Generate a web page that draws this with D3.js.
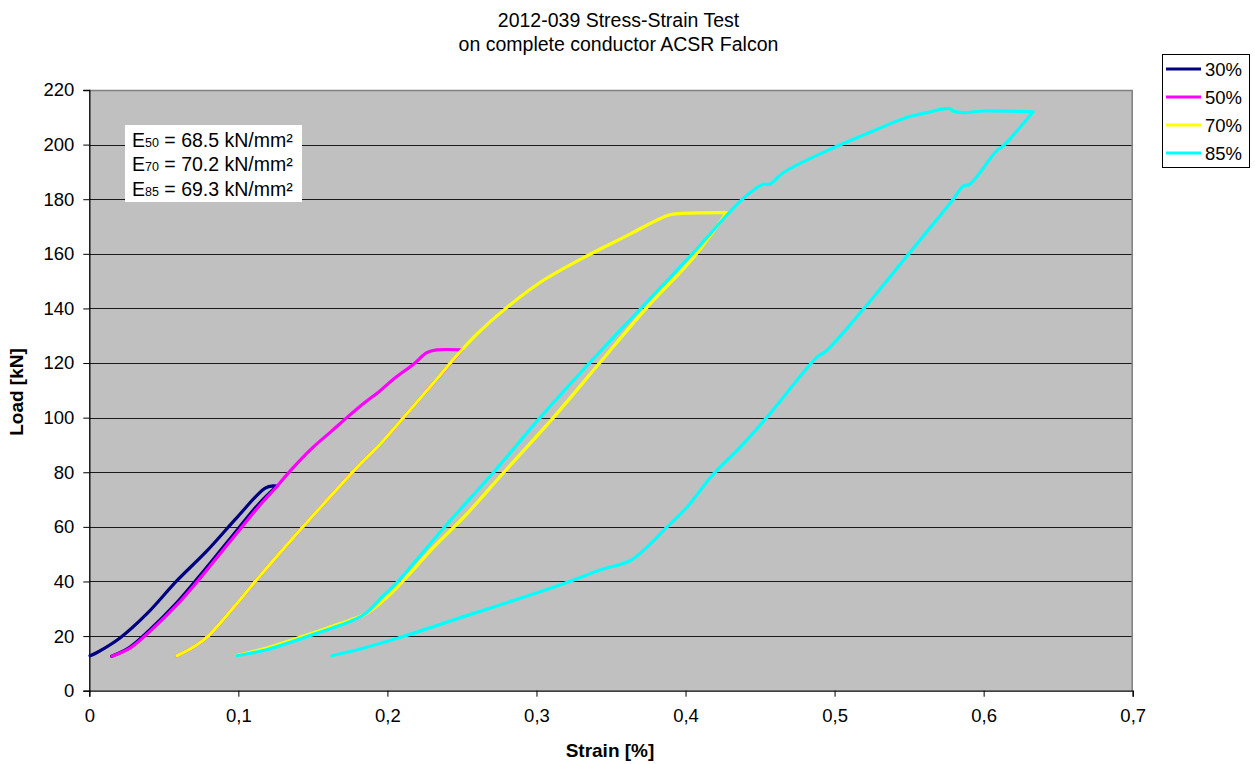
<!DOCTYPE html>
<html>
<head>
<meta charset="utf-8">
<script src="https://cdn.jsdelivr.net/npm/d3@7"></script>
<style>
  html, body { margin: 0; padding: 0; background: #fff; }
  svg { display: block; font-family: "Liberation Sans", Arial, sans-serif; }
</style>
</head>
<body>
<svg id="chart" width="1255" height="764"></svg>
<script>
// Stress-strain cycles: [strain %, load kN], loading branch followed by unloading branch
const series30 = [
  [0.0005,12.8],[0.0052,14.0],[0.0208,19.4],[0.0387,28.2],[0.0588,40.3],[0.0789,51.2],
  [0.0990,63.4],[0.1180,74.2],[0.1236,75.0],[0.1258,74.9],[0.1135,68.3],[0.0933,54.9],
  [0.0732,41.5],[0.0578,31.7],[0.0400,22.0],[0.0268,15.8],[0.0150,12.6]
];
const series50 = [
  [0.0152,12.6],[0.0278,15.8],[0.0412,22.0],[0.0592,31.7],[0.0748,41.5],[0.0948,54.9],
  [0.1150,68.3],[0.1260,74.9],[0.1348,80.5],[0.1500,89.1],[0.1620,94.8],[0.1728,100.0],
  [0.1850,105.6],[0.1950,109.8],[0.2040,114.1],[0.2175,119.6],[0.2264,123.8],[0.2331,124.8],
  [0.2499,124.8],[0.2290,111.5],[0.2085,98.6],[0.1951,90.3],[0.1795,81.7],[0.1570,68.3],
  [0.1348,54.8],[0.1147,42.2],[0.0968,30.5],[0.0787,19.5],[0.0677,15.3],[0.0588,12.8]
];
const series70 = [
  [0.0588,12.8],[0.0677,15.3],[0.0787,19.5],[0.0968,30.5],[0.1147,42.2],[0.1348,54.8],
  [0.1570,68.3],[0.1795,81.7],[0.1951,90.3],[0.2085,98.6],[0.2290,111.5],[0.2499,124.8],
  [0.2600,130.6],[0.2800,140.3],[0.3024,149.5],[0.3337,159.2],[0.3627,167.2],[0.3780,171.6],
  [0.3896,174.3],[0.4000,174.9],[0.4276,175.1],
  [0.4052,158.6],[0.3740,140.3],[0.3426,120.2],[0.3113,100.0],[0.2780,79.9],
  [0.2532,64.7],[0.2309,52.5],[0.2107,40.3],[0.1996,34.2],[0.1862,28.3],[0.1750,25.9],
  [0.1460,20.4],[0.1190,15.6],[0.0990,12.9]
];
const series85 = [
  [0.0990,12.8],[0.1190,15.0],[0.1460,19.8],[0.1728,24.9],[0.1840,27.8],[0.1973,34.8],
  [0.2063,39.6],[0.2376,59.5],[0.2711,79.9],[0.3024,100.0],[0.3359,120.2],[0.3695,139.7],
  [0.4052,160.4],[0.4387,180.3],[0.4521,185.5],[0.4566,185.5],[0.4655,189.7],[0.4946,197.7],
  [0.5259,205.0],[0.5483,209.9],[0.5617,211.7],[0.5773,213.2],[0.5796,212.3],[0.5863,211.7],
  [0.5997,212.3],[0.6332,212.0],
  [0.6131,199.5],[0.6086,197.7],[0.5907,185.5],[0.5863,184.8],[0.5796,180.0],
  [0.5706,173.9],[0.5494,159.8],[0.5192,139.7],[0.4946,124.5],[0.4879,122.0],[0.4544,100.0],
  [0.4365,89.1],[0.4186,79.3],[0.4008,67.1],[0.3873,59.8],[0.3740,52.5],[0.3627,47.6],
  [0.3426,44.2],[0.3203,39.6],[0.2980,35.4],[0.2532,27.5],[0.2085,19.5],[0.1817,15.3],
  [0.1627,12.8]
];

const seriesNames = ["30%", "50%", "70%", "85%"];
const seriesColors = ["#000080", "#FF00FF", "#FFFF00", "#00FFFF"];
const xTicks = [0, 0.1, 0.2, 0.3, 0.4, 0.5, 0.6, 0.7];
const yTicks = [0, 20, 40, 60, 80, 100, 120, 140, 160, 180, 200, 220];
const titleLines = ["2012-039 Stress-Strain Test", "on complete conductor ACSR Falcon"];
const modulusNotes = [["50", "68.5"], ["70", "70.2"], ["85", "69.3"]];

const svg = d3.select("#chart");
const plot = { left: 89.3, top: 90, right: 1132.7, bottom: 690.7 };

const x = d3.scaleLinear().domain([0, 0.7]).range([plot.left, plot.right]);
const y = d3.scaleLinear().domain([0, 220]).range([plot.bottom, plot.top]);

// plot area background
svg.append("rect")
  .attr("x", plot.left).attr("y", plot.top)
  .attr("width", plot.right - plot.left).attr("height", plot.bottom - plot.top)
  .attr("fill", "#C0C0C0");

// horizontal grid lines
svg.append("g").selectAll("line")
  .data(yTicks.filter(d => d > 0 && d < 220))
  .join("line")
  .attr("x1", plot.left).attr("x2", plot.right)
  .attr("y1", d => Math.round(y(d)) + 0.5).attr("y2", d => Math.round(y(d)) + 0.5)
  .attr("stroke", "#1a1a1a").attr("stroke-width", 1);

// top and right border of the plot area
svg.append("path")
  .attr("d", `M${plot.left},${plot.top + 0.5}H${plot.right - 0.5}V${plot.bottom}`)
  .attr("fill", "none").attr("stroke", "#808080").attr("stroke-width", 1.5);

// axes
const fmtComma = d => d === 0 ? "0" : d3.format(".1f")(d).replace(".", ",");
const xAxis = d3.axisBottom(x).tickValues(xTicks).tickFormat(fmtComma).tickSize(6).tickPadding(12);
const yAxis = d3.axisLeft(y).tickValues(yTicks).tickFormat(d3.format("d")).tickSize(6).tickPadding(9);

const gx = svg.append("g").attr("transform", `translate(0,${plot.bottom})`).call(xAxis);
const gy = svg.append("g").attr("transform", `translate(${plot.left},0)`).call(yAxis);
[gx, gy].forEach(g => {
  g.select(".domain").attr("stroke", "#000").attr("stroke-width", 1.3);
  g.selectAll(".tick line").attr("stroke", "#000");
  g.selectAll(".tick text")
    .attr("fill", "#000")
    .style("font-family", "'Liberation Sans', Arial, sans-serif")
    .style("font-size", "18.5px");
});

// curves: each cycle is smoothed separately on its loading and unloading
// branch (split at the point of maximum strain) so the turn stays sharp
const line = d3.line()
  .x(d => x(d[0])).y(d => y(d[1]))
  .curve(d3.curveCatmullRom.alpha(0.5));
const cyclePath = pts => {
  const turn = d3.maxIndex(pts, d => d[0]);
  return line(pts.slice(0, turn + 1)) + line(pts.slice(turn));
};
const allSeries = [series30, series50, series70, series85];
svg.append("g").selectAll("path")
  .data(allSeries)
  .join("path")
  .attr("d", d => cyclePath(d))
  .attr("fill", "none")
  .attr("stroke", (d, i) => seriesColors[i])
  .attr("stroke-width", 3.2)
  .attr("stroke-linejoin", "round")
  .attr("stroke-linecap", "round");

// title
svg.append("g").selectAll("text")
  .data(titleLines)
  .join("text")
  .attr("x", 618.5)
  .attr("y", (d, i) => 27 + i * 24)
  .attr("text-anchor", "middle")
  .style("font-size", "19.5px")
  .attr("fill", "#000")
  .text(d => d);

// axis titles
svg.append("text")
  .attr("x", 610).attr("y", 757)
  .attr("text-anchor", "middle")
  .style("font-size", "19px").style("font-weight", "bold")
  .text("Strain [%]");
svg.append("text")
  .attr("transform", "translate(23,392) rotate(-90)")
  .attr("text-anchor", "middle")
  .style("font-size", "19px").style("font-weight", "bold")
  .text("Load [kN]");

// modulus annotation box
const note = svg.append("g");
note.append("rect")
  .attr("x", 125).attr("y", 125).attr("width", 177).attr("height", 77)
  .attr("fill", "#fff");
modulusNotes.forEach((m, i) => {
  const t = note.append("text")
    .attr("x", 132).attr("y", 147 + i * 24.4)
    .style("font-size", "19.5px").attr("fill", "#000");
  t.append("tspan").text("E");
  t.append("tspan").style("font-size", "12.5px").text(m[0]);
  t.append("tspan").text(` = ${m[1]} kN/mm²`);
});

// legend
const legend = svg.append("g");
legend.append("rect")
  .attr("x", 1162.5).attr("y", 54.5).attr("width", 87).attr("height", 113)
  .attr("fill", "#fff").attr("stroke", "#000").attr("stroke-width", 1);
seriesNames.forEach((name, i) => {
  const ly = 69 + i * 28;
  legend.append("line")
    .attr("x1", 1166).attr("x2", 1201).attr("y1", ly).attr("y2", ly)
    .attr("stroke", seriesColors[i]).attr("stroke-width", 3.2);
  legend.append("text")
    .attr("x", 1205).attr("y", ly + 6.5)
    .style("font-size", "18.5px").attr("fill", "#000")
    .text(name);
});
</script>
</body>
</html>
